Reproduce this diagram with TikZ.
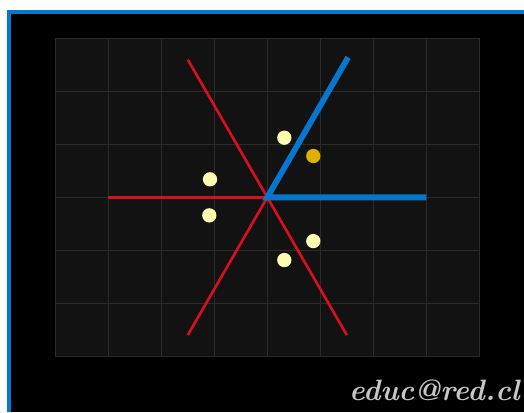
\documentclass[tikz,border=0pt]{standalone}
\usepackage{tikz}

\definecolor{azul}{HTML}{0677CE}
\definecolor{rojo}{HTML}{D8101C}
\definecolor{crema}{HTML}{FFFCB2}
\definecolor{oro}{HTML}{DDB000}

\begin{document}
\begin{tikzpicture}[
    font=\scriptsize,
    panel/.style   ={fill=black!93, draw=black!83, line width=0.02cm},
    rejilla/.style ={draw=black!83, line width=0.02cm},
    espejo/.style  ={draw=rojo, line width=0.05cm},
    eje/.style     ={draw=azul, line width=0.11cm, line join=miter},
    punto/.style   ={circle, fill=crema, inner sep=0pt, minimum size=0.27cm},
    clave/.style   ={circle, fill=oro, inner sep=0pt, minimum size=0.27cm},
    firma/.style   ={text=black!22, font=\fontsize{15.8}{16}\selectfont\bfseries\itshape,
                     inner sep=0pt, anchor=base east}
  ]

  % --- marco y fondo -----------------------------------------------------
  \useasboundingbox (-5.043,-4.051) rectangle (4.843,3.723);
  \fill[white] (-5.043,-4.051) rectangle (4.843,3.723);
  \fill[azul]  (-4.911,-4.051) rectangle (4.843,3.534);
  \fill[black] (-4.836,-4.051) rectangle (4.843,3.458);

  % --- rejilla ------------------------------------------------------------
  \path[panel] (-4,-3) rectangle (4,3);
  \draw[rejilla] (-4,-3) grid (4,3);

  % --- rectas de reflexión y ejes -----------------------------------------
  \coordinate (o) at (0,0);
  \foreach \a in {0,60,120} \draw[espejo] (\a:3) -- (\a+180:3);
  \coordinate (e1) at (0:3);
  \coordinate (e2) at (60:3.05);
  \draw[eje] (e1) -- (o) -- (e2);

  % --- órbita del punto ---------------------------------------------------
  \node[clave] (q0) at ( 0.868, 0.779) {};
  \node[punto] (q1) at ( 0.321, 1.125) {};
  \node[punto] (q2) at (-1.081, 0.340) {};
  \node[punto] (q3) at (-1.094,-0.340) {};
  \node[punto] (q4) at ( 0.868,-0.825) {};
  \node[punto] (q5) at ( 0.321,-1.183) {};

  % --- firma ----------------------------------------------------------------
  \node[firma] (sello) at (4.768,-3.825) {educ@red.cl};

  \end{tikzpicture}
\end{document}
